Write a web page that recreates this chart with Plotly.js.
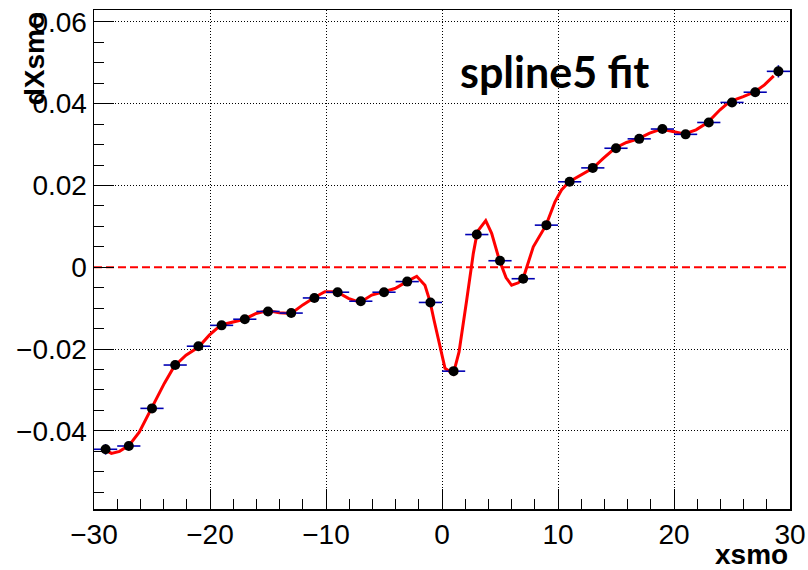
<!DOCTYPE html>
<html>
<head>
<meta charset="utf-8">
<script src="https://cdn.plot.ly/plotly-3.0.1.min.js"></script>
<style>html,body{margin:0;padding:0;background:#fff;}#chart{width:808px;height:570px;}</style>
</head>
<body>
<div id="chart"></div>
<script>
// Measured points (bin centres, values, errors)
const xsmo = [-29,-27,-25,-23,-21,-19,-17,-15,-13,-11,-9,-7,-5,-3,-1,1,3,5,7,9,11,13,15,17,19,21,23,25,27,29];
const dXsmo = [-0.0445,-0.0437,-0.0345,-0.0239,-0.0193,-0.0142,-0.0127,-0.0108,-0.0112,-0.0075,-0.0061,-0.0083,-0.0061,-0.0035,-0.0086,-0.0254,0.0080,0.0016,-0.0028,0.0103,0.0209,0.0243,0.0291,0.0314,0.0338,0.0325,0.0354,0.0403,0.0428,0.0479];
const xErr = [1,1,1,1,1,1,1,1,1,1,1,1,1,1,1,1,1,1,1,1,1,1,1,1,1,1,1,1,1,1];
const yErr = [0.0013,0.0009,0.0008,0.0006,0.0005,0.0005,0.0005,0.0005,0.0005,0.0005,0.0005,0.0005,0.0005,0.0005,0.0005,0.0005,0.0005,0.0005,0.0005,0.0005,0.0005,0.0005,0.0005,0.0005,0.0005,0.0006,0.0007,0.0009,0.0011,0.0015];

// spline5 fit curve
const fitX = [-29.0,-28.5,-27.8,-26.96,-26.1,-24.95,-23.94,-23.08,-22.07,-20.98,-20.06,-19.05,-17.76,-17.04,-16.03,-15.03,-14.03,-13.0,-12.0,-11.0,-10.1,-9.08,-8.07,-7.07,-6.06,-5.06,-4.05,-3.04,-2.18,-1.47,-1.03,-0.69,-0.17,0.26,0.97,1.47,2.13,2.7,3.05,3.77,4.28,4.94,5.52,6.0,6.58,7.0,7.87,8.97,9.74,10.3,10.97,12.04,12.99,13.9,14.9,15.9,16.9,17.9,18.9,19.9,20.9,21.9,22.9,23.97,24.8,25.97,26.98,27.8,28.6];
const fitY = [-0.0447,-0.0455,-0.0450,-0.0435,-0.0403,-0.0341,-0.0284,-0.0242,-0.0215,-0.0195,-0.0166,-0.0141,-0.0131,-0.0127,-0.0113,-0.0106,-0.0111,-0.0113,-0.0092,-0.0074,-0.0060,-0.0060,-0.0076,-0.0086,-0.0068,-0.0060,-0.0052,-0.0035,-0.0022,-0.0044,-0.0084,-0.0129,-0.0195,-0.0247,-0.0261,-0.0207,-0.0080,0.0034,0.0087,0.0114,0.0083,0.0018,-0.0025,-0.0044,-0.0038,-0.0027,0.0050,0.0103,0.0160,0.0189,0.0209,0.0226,0.0242,0.0266,0.0291,0.0305,0.0314,0.0328,0.0338,0.0332,0.0326,0.0336,0.0354,0.0385,0.0405,0.0417,0.0429,0.0446,0.0468];

const xRange = [-30, 30];
const yRange = [-0.0591, 0.0629];
const refLevel = 0;

const tickFont = {family: 'Liberation Sans, Arial, sans-serif', size: 28, color: '#000'};

const traces = [
  // white underlay hides the dotted grid line at the reference level
  {
    x: [xRange[0] + 1.5, xRange[1]], y: [refLevel, refLevel], type: 'scatter', mode: 'lines',
    line: {color: '#ffffff', width: 3}, hoverinfo: 'skip', showlegend: false, cliponaxis: true
  },
  {
    x: xRange, y: [refLevel, refLevel], type: 'scatter', mode: 'lines',
    line: {color: '#ff0000', width: 2, dash: '8px,4px'}, hoverinfo: 'skip', showlegend: false
  },
  {
    x: fitX, y: fitY, type: 'scatter', mode: 'lines',
    line: {color: '#ff0000', width: 3}, hoverinfo: 'skip', showlegend: false
  },
  {
    x: xsmo, y: dXsmo, type: 'scatter', mode: 'markers',
    marker: {color: '#000', size: 10},
    error_x: {type: 'data', array: xErr, visible: true, color: '#0000b4', thickness: 1.6, width: 0},
    error_y: {type: 'data', array: yErr, visible: true, color: '#0000b4', thickness: 1.6, width: 0},
    showlegend: false
  }
];

const axisCommon = {
  showline: true, linecolor: '#000', linewidth: 1.5, mirror: true,
  ticks: 'inside', ticklen: 20, tickwidth: 1, tickcolor: '#000',
  showgrid: true, gridcolor: '#000', gridwidth: 1, griddash: '1px,2px',
  zeroline: false, tickfont: tickFont
};

const layout = {
  width: 808, height: 570,
  margin: {l: 94, r: 18, t: 10, b: 61},
  paper_bgcolor: '#fff', plot_bgcolor: '#fff',
  xaxis: Object.assign({}, axisCommon, {
    range: xRange, dtick: 10, tick0: 0,
    minor: {dtick: 2, ticklen: 10, ticks: 'inside', tickcolor: '#000', tickwidth: 1, showgrid: false}
  }),
  yaxis: Object.assign({}, axisCommon, {
    range: yRange, dtick: 0.02, tick0: 0, tickformat: '.2~f',
    minor: {dtick: 0.005, ticklen: 10, ticks: 'inside', tickcolor: '#000', tickwidth: 1, showgrid: false}
  }),
  annotations: [
    {text: '<b>dXsmo</b>', xref: 'paper', yref: 'paper', x: -0.085, y: 1.0, xanchor: 'center', yanchor: 'top',
     textangle: -90, showarrow: false, font: {family: 'Liberation Sans, Arial, sans-serif', size: 28, color: '#000'}},
    {text: '<b>xsmo</b>', xref: 'paper', yref: 'paper', x: 1.0, y: -0.092, xanchor: 'right', yanchor: 'middle',
     showarrow: false, font: {family: 'Liberation Sans, Arial, sans-serif', size: 28, color: '#000'}},
    {text: '<b>spline5 fit</b>', xref: 'paper', yref: 'paper', x: 0.661, y: 0.876, xanchor: 'center', yanchor: 'middle',
     showarrow: false, font: {family: 'Lato, Open Sans, sans-serif', size: 43, color: '#000', weight: 900}}
  ]
};

Plotly.newPlot('chart', traces, layout, {displayModeBar: false, staticPlot: true});
</script>
</body>
</html>
